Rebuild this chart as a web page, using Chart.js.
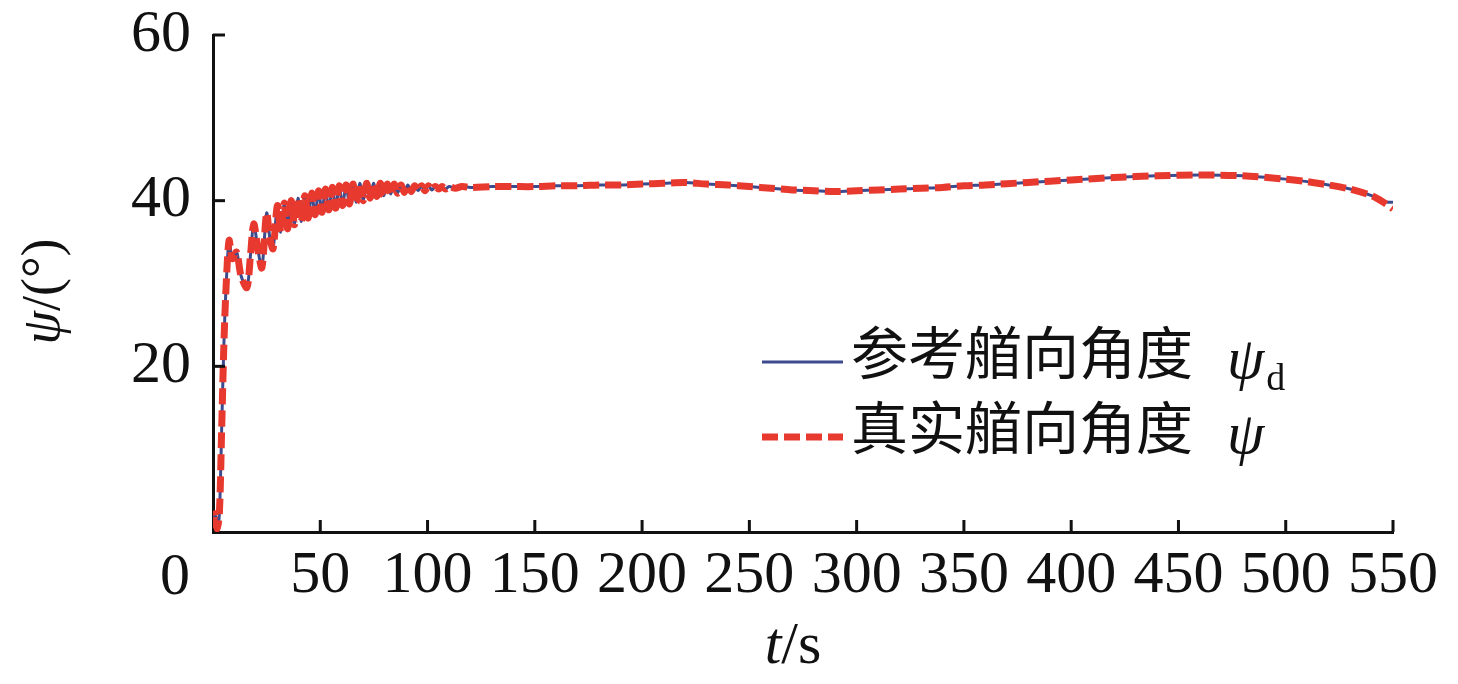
<!DOCTYPE html>
<html>
<head>
<meta charset="utf-8">
<script src="https://cdn.jsdelivr.net/npm/chart.js@4.4.1/dist/chart.umd.min.js"></script>
<style>
  html, body { margin: 0; padding: 0; background: #fff; }
  #wrap { width: 1458px; height: 684px; }
</style>
</head>
<body>
<div id="wrap"><canvas id="headingChart" width="1458" height="684"></canvas></div>
<script>
// time (s)
const times = [0, 1, 2, 3, 4, 5, 6, 7.5, 9, 11, 13, 15.8, 17.5, 19, 21, 22.8, 25, 26.5, 28,
  30.0, 31.6, 33.2, 34.8, 36.4, 38.0, 39.6, 41.2, 42.8, 44.4, 46.0, 47.6, 49.2, 50.8, 52.4, 54.0,
  55.6, 57.2, 58.8, 60.4, 62.0, 63.6, 65.2, 66.8, 68.4, 70.0, 71.6, 73.2, 74.8, 76.4, 78.0, 79.6,
  81.2, 82.8, 84.4, 86.0, 87.6, 89.2, 90.8, 92.4, 94.0, 95.6, 97.2, 98.8, 100.4, 102.0, 103.6, 105.2,
  106.8, 108.4, 110.0, 113, 116, 120, 130, 140, 150, 160, 170, 180, 190, 200, 210, 220, 230, 240,
  250, 260, 270, 280, 290, 300, 310, 320, 330, 340, 350, 360, 380, 400, 420, 440, 460, 480, 500,
  510, 520, 530, 540, 545, 550];

// reference heading psi_d (deg)
const psiRef = [0.5, 2.2, 0.4, 2.4, 12, 22, 29, 35.2, 33, 33.8, 31, 29.5, 33.5, 37.2, 34, 31.9, 38.5, 35.5, 34.2,
  39.4, 36.2, 39.7, 36.6, 40.0, 37.1, 40.3, 37.5, 40.6, 37.9, 40.9, 38.3, 41.2, 38.6, 41.4, 38.9,
  41.6, 39.1, 41.8, 39.4, 41.9, 39.6, 42.0, 39.8, 42.1, 40.0, 42.1, 40.3, 42.1, 40.5, 42.1, 40.6,
  42.0, 40.8, 42.0, 40.9, 41.9, 41.0, 41.9, 41.1, 41.8, 41.2, 41.8, 41.2, 41.8, 41.3, 41.7, 41.4,
  41.7, 41.4, 41.7, 41.5, 41.7, 41.6, 41.7, 41.7, 41.7, 41.8, 41.8, 41.9, 41.9, 42.0, 42.1, 42.2, 42.0, 41.9,
  41.7, 41.5, 41.3, 41.2, 41.1, 41.2, 41.3, 41.4, 41.5, 41.6, 41.8, 41.9, 42.2, 42.5, 42.8, 43.0, 43.1, 43.0, 42.6,
  42.3, 41.9, 41.4, 40.6, 39.9, 39.8];

// actual heading psi (deg)
const psiReal = [0.5, 2.2, 0.4, 2.4, 12, 22, 29, 35.2, 33, 33.8, 31, 29.5, 33.5, 37.2, 34, 31.9, 38.5, 35.5, 34.2,
  39.4, 36.2, 39.7, 36.6, 40.0, 37.1, 40.3, 37.5, 40.6, 37.9, 40.9, 38.3, 41.2, 38.6, 41.4, 38.9,
  41.6, 39.1, 41.8, 39.4, 41.9, 39.6, 42.0, 39.8, 42.1, 40.0, 42.1, 40.3, 42.1, 40.5, 42.1, 40.6,
  42.0, 40.8, 42.0, 40.9, 41.9, 41.0, 41.9, 41.1, 41.8, 41.2, 41.8, 41.2, 41.8, 41.3, 41.7, 41.4,
  41.7, 41.4, 41.7, 41.5, 41.7, 41.6, 41.7, 41.7, 41.7, 41.8, 41.8, 41.9, 41.9, 42.0, 42.1, 42.2, 42.0, 41.9,
  41.7, 41.5, 41.3, 41.2, 41.1, 41.2, 41.3, 41.4, 41.5, 41.6, 41.8, 41.9, 42.2, 42.5, 42.8, 43.0, 43.1, 43.0, 42.6,
  42.3, 41.9, 41.4, 40.6, 39.9, 39.0];

const legendNames = ['参考艏向角度', '真实艏向角度'];
const legendSymbols = [['ψ', 'd'], ['ψ', '']];

const SERIF = '"Liberation Serif", "Times New Roman", serif';
const CJK = '"Noto Sans CJK SC", sans-serif';
const BLUE = '#3c4a8e';
const RED = '#e8392f';

// ticks point inward, titles / legend need italics + subscript, so drawn here
const decor = {
  id: 'decor',
  afterDraw(chart) {
    const { ctx, chartArea: ca, scales: { x, y } } = chart;
    ctx.save();
    ctx.strokeStyle = '#111';
    ctx.lineWidth = 3;
    x.ticks.forEach(t => {
      if (t.value === 0) return;
      const px = x.getPixelForValue(t.value);
      ctx.beginPath();
      ctx.moveTo(px, ca.bottom);
      ctx.lineTo(px, ca.bottom - 12);
      ctx.stroke();
    });
    y.ticks.forEach(t => {
      if (t.value === 0) return;
      const py = y.getPixelForValue(t.value);
      ctx.beginPath();
      ctx.moveTo(ca.left, py);
      ctx.lineTo(ca.left + 12, py);
      ctx.stroke();
    });

    ctx.fillStyle = '#111';
    ctx.textBaseline = 'alphabetic';

    // shared origin label
    ctx.font = '60px ' + SERIF;
    ctx.textAlign = 'center';
    ctx.fillText('0', ca.left - 38, 594);

    // x title  t/s
    ctx.textAlign = 'left';
    const xt1 = 'italic 60px ' + SERIF, xt2 = '60px ' + SERIF;
    ctx.font = xt1; const w1 = ctx.measureText('t').width;
    ctx.font = xt2; const w2 = ctx.measureText('/s').width;
    let sx = (ca.left + ca.right) / 2 - 10 - (w1 + w2) / 2;
    ctx.font = xt1; ctx.fillText('t', sx, 663);
    ctx.font = xt2; ctx.fillText('/s', sx + w1, 663);

    // y title  psi/(deg)
    ctx.save();
    ctx.translate(45, (ca.top + ca.bottom) / 2 + 8);
    ctx.rotate(-Math.PI / 2);
    ctx.textBaseline = 'middle';
    const yt1 = 'italic 54px ' + SERIF, yt2 = '54px ' + SERIF;
    ctx.font = yt1; const v1 = ctx.measureText('ψ').width;
    ctx.font = yt2; const v2 = ctx.measureText('/(°)').width;
    sx = -(v1 + v2) / 2;
    ctx.font = yt1; ctx.fillText('ψ', sx, 0);
    ctx.font = yt2; ctx.fillText('/(°)', sx + v1, 0);
    ctx.restore();

    // legend
    const rows = [362, 437];
    chart.data.datasets.forEach((ds, i) => {
      const ly = rows[i];
      ctx.save();
      ctx.strokeStyle = ds.borderColor;
      ctx.lineWidth = ds.borderWidth;
      ctx.setLineDash(ds.borderDash || []);
      ctx.beginPath();
      ctx.moveTo(762, ly);
      ctx.lineTo(843, ly);
      ctx.stroke();
      ctx.restore();

      ctx.textBaseline = 'middle';
      ctx.textAlign = 'left';
      ctx.font = '57px ' + CJK;
      const ty = ly - 10;
      ctx.fillText(legendNames[i], 851, ty);
      let tx = 851 + ctx.measureText(legendNames[i]).width + 34;
      ctx.font = 'italic 60px ' + SERIF;
      ctx.textBaseline = 'alphabetic';
      ctx.fillText(legendSymbols[i][0], tx, ly + 16);
      tx += ctx.measureText(legendSymbols[i][0]).width;
      if (legendSymbols[i][1]) {
        ctx.font = '38px ' + SERIF;
        ctx.fillText(legendSymbols[i][1], tx + 2, ly + 28);
      }
    });
    ctx.restore();
  }
};

const ctx = document.getElementById('headingChart').getContext('2d');
new Chart(ctx, {
  type: 'line',
  data: {
    datasets: [{
      label: '参考艏向角度 ψd',
      data: times.map((t, i) => ({ x: t, y: psiRef[i] })),
      borderColor: BLUE,
      borderWidth: 3,
      order: 1
    }, {
      label: '真实艏向角度 ψ',
      data: times.map((t, i) => ({ x: t, y: psiReal[i] })),
      borderColor: RED,
      borderWidth: 7,
      borderDash: [16, 6],
      order: 0
    }]
  },
  options: {
    responsive: false,
    animation: false,
    devicePixelRatio: 1,
    elements: { point: { radius: 0 }, line: { tension: 0.3 } },
    layout: { padding: { left: 0, top: 35, right: 65, bottom: 0 } },
    plugins: { legend: { display: false }, tooltip: { enabled: false } },
    scales: {
      x: {
        type: 'linear',
        min: 0, max: 550,
        grid: { display: false, drawTicks: false },
        border: { display: true, color: '#111', width: 3 },
        ticks: {
          stepSize: 50,
          padding: 14,
          color: '#111',
          font: { family: SERIF, size: 60, lineHeight: 1 },
          maxRotation: 0,
          autoSkip: false,
          callback: v => (v === 0 ? '' : v)
        },
        afterFit(s) { s.height = 152; }
      },
      y: {
        min: 0, max: 60,
        grid: { display: false, drawTicks: false },
        border: { display: true, color: '#111', width: 3 },
        ticks: {
          stepSize: 20,
          padding: 22,
          color: '#111',
          font: { family: SERIF, size: 60, lineHeight: 0.4 },
          callback: v => (v === 0 ? '' : v)
        },
        afterFit(s) { s.width = 213; }
      }
    }
  },
  plugins: [decor]
});
</script>
</body>
</html>
